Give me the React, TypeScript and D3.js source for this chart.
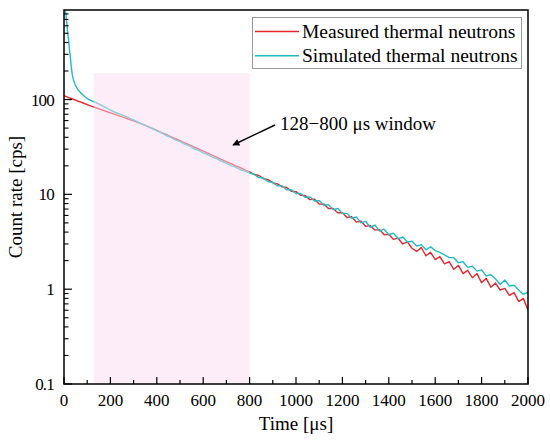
import React from "react";
import * as d3 from "d3";

// ---- data ----
const TIME_STEP = 20; // µs between samples
const measuredRate = [
  109.6, 105, 100.7, 96.4, 92.5, 88.5, 84.7, 81.5, 78.3, 75.3,
  72.4, 69.7, 67.0, 64.4, 61.9, 59.6, 57.1, 54.7, 52.1, 49.7,
  47.2, 44.9, 42.8, 40.6, 38.6, 36.8, 35.0, 33.3, 31.6, 30.1,
  28.6, 27.2, 25.8, 24.5, 23.3, 22.2, 21.1, 20.0, 19.1, 18.1,
  17.3, 16.2, 15.8, 14.6, 14.3, 13.2, 12.9, 12.0, 11.8, 10.8,
  10.7, 9.8, 9.7, 8.8, 8.9, 7.9, 7.9, 7.1, 7.1, 6.4,
  6.4, 5.7, 5.8, 5.1, 5.2, 4.6, 4.7, 4.2, 4.25, 3.75,
  3.8, 3.35, 3.45, 3.0, 3.15, 2.7, 2.5, 2.75, 2.25, 2.45,
  2.05, 2.2, 1.85, 1.95, 1.62, 1.78, 1.46, 1.58, 1.32, 1.46,
  1.17, 1.3, 1.05, 1.16, 0.98, 1.02, 0.86, 0.92, 0.74, 0.8,
  0.6,
];
const simulatedEarly: [number, number][] = [
  [6, 860], [8, 790], [12, 640], [16, 500], [20, 420], [24, 330],
  [28, 270], [32, 212], [36, 182], [40, 163], [50, 140], [60, 127],
  [70, 119], [80, 113], [90, 107], [100, 102.5],
];
const SIM_TAIL_START = 120;
const simulatedRate = [
  97, 92, 87.5, 82, 77.5, 73.5, 70.3, 67.2, 64, 61,
  57.8, 54.8, 52.0, 49.6, 46.7, 44.6, 41.9, 40.0, 37.6, 36.0,
  33.8, 32.4, 30.3, 29.1, 27.4, 26.3, 24.6, 23.7, 22.3, 21.4,
  20.1, 19.4, 18.2, 17.6, 16.8, 16.3, 15.0, 14.9, 13.6, 13.4,
  12.3, 12.3, 11.2, 11.2, 10.2, 10.2, 9.3, 9.4, 8.5, 8.6,
  7.7, 7.8, 6.9, 7.1, 6.3, 6.3, 5.6, 5.8, 5.0, 5.2,
  4.5, 4.75, 4.1, 4.3, 3.75, 3.9, 3.4, 3.55, 3.15, 3.2,
  2.85, 2.95, 2.6, 2.8, 2.55, 2.45, 2.3, 2.15, 2.15, 1.9,
  1.95, 1.7, 1.75, 1.55, 1.6, 1.38, 1.42, 1.28, 1.12, 1.25,
  1.08, 1.1, 0.98, 0.88, 0.93,
];
const windowStart = 128;
const windowEnd = 800;
const windowTop = 190;
const xTicks = [0, 200, 400, 600, 800, 1000, 1200, 1400, 1600, 1800, 2000];
const yTicks = [0.1, 1, 10, 100];
const yTickLabels = ["0.1", "1", "10", "100"];
const seriesNames = ["Measured thermal neutrons", "Simulated thermal neutrons"];
const seriesColors = ["#e8262e", "#1fbcc4"];
const annotation = "128\u2212800 \u03bcs window";

const W = 550, H = 441;
const M = { left: 64, right: 528, top: 10, bottom: 384 };
const FONT = "'Liberation Serif', 'Times New Roman', serif";

export default function App() {
  const x = d3.scaleLinear().domain([0, 2000]).range([M.left, M.right]);
  const y = d3.scaleLog().domain([0.1, 880]).range([M.bottom, M.top]);

  const measured: [number, number][] = measuredRate.map((v, i) => [i * TIME_STEP, v]);
  const simulated: [number, number][] = [
    ...simulatedEarly,
    ...simulatedRate.map((v, i) => [SIM_TAIL_START + i * TIME_STEP, v] as [number, number]),
  ];
  const line = d3
    .line<[number, number]>()
    .x((d) => x(d[0]))
    .y((d) => y(d[1]));

  const minorX = d3.range(100, 2000, 200);
  const minorY: number[] = [];
  [0.1, 1, 10, 100].forEach((dec) => {
    for (let k = 2; k <= 9; k++) {
      const v = dec * k;
      if (v < 880) minorY.push(v);
    }
  });

  return (
    <svg
      width={W}
      height={H}
      style={{ position: "absolute", left: 0, top: 0, background: "#fff" }}
      fontFamily={FONT}
    >
      <defs>
        <clipPath id="plot">
          <rect x={M.left} y={M.top} width={M.right - M.left} height={M.bottom - M.top} />
        </clipPath>
        <marker id="arr" viewBox="0 0 10 10" refX="9" refY="5" markerWidth="9" markerHeight="7" orient="auto" markerUnits="userSpaceOnUse">
          <path d="M0,0 L10,5 L0,10 Z" fill="#000" />
        </marker>
      </defs>
      <rect x={0} y={0} width={W} height={H} fill="#fff" />
      <g clipPath="url(#plot)">
        <path d={line(measured) || ""} fill="none" stroke={seriesColors[0]} strokeWidth={1.4} strokeLinejoin="round" />
        <path d={line(simulated) || ""} fill="none" stroke={seriesColors[1]} strokeWidth={1.4} strokeLinejoin="round" />
      </g>
      <rect
        x={x(windowStart)}
        y={y(windowTop)}
        width={x(windowEnd) - x(windowStart)}
        height={M.bottom - y(windowTop)}
        fill="rgb(250,220,242)"
        fillOpacity={0.5}
      />
      {/* frame */}
      <rect x={M.left} y={M.top} width={M.right - M.left} height={M.bottom - M.top} fill="none" stroke="#000" strokeWidth={1.5} />
      {/* x ticks */}
      {xTicks.map((t) => (
        <g key={"x" + t}>
          <line x1={x(t)} x2={x(t)} y1={M.bottom} y2={M.bottom - 7} stroke="#000" strokeWidth={1.2} />
          <text x={x(t)} y={406} fontSize={17} textAnchor="middle">{t}</text>
        </g>
      ))}
      {minorX.map((t) => (
        <line key={"mx" + t} x1={x(t)} x2={x(t)} y1={M.bottom} y2={M.bottom - 4} stroke="#000" strokeWidth={1.2} />
      ))}
      {/* y ticks */}
      {yTicks.map((t, i) => (
        <g key={"y" + t}>
          <line x1={M.left} x2={M.left + 8} y1={y(t)} y2={y(t)} stroke="#000" strokeWidth={1.2} />
          <text x={54} y={y(t) + 6} fontSize={17} textAnchor="end" letterSpacing={-0.8}>{yTickLabels[i]}</text>
        </g>
      ))}
      {minorY.map((t) => (
        <line key={"my" + t} x1={M.left} x2={M.left + 4.5} y1={y(t)} y2={y(t)} stroke="#000" strokeWidth={1.1} />
      ))}
      {/* axis titles */}
      <text x={(M.left + M.right) / 2} y={430} fontSize={19} textAnchor="middle">Time [{"\u03bc"}s]</text>
      <text transform={`translate(22,${(M.top + M.bottom) / 2}) rotate(-90)`} fontSize={19} textAnchor="middle">Count rate [cps]</text>
      {/* annotation */}
      <line x1={275} y1={125} x2={233} y2={145} stroke="#000" strokeWidth={1.4} markerEnd="url(#arr)" />
      <text x={280} y={130} fontSize={19}>{annotation}</text>
      {/* legend */}
      <rect x={252.5} y={17.5} width={269} height={51} fill="#fff" stroke="#999" strokeWidth={1} />
      {seriesNames.map((n, i) => (
        <g key={n}>
          <line x1={255} x2={299} y1={31.5 + i * 24.3} y2={31.5 + i * 24.3} stroke={seriesColors[i]} strokeWidth={1.5} />
          <text x={302} y={38 + i * 24.3} fontSize={19.5}>{n}</text>
        </g>
      ))}
    </svg>
  );
}
